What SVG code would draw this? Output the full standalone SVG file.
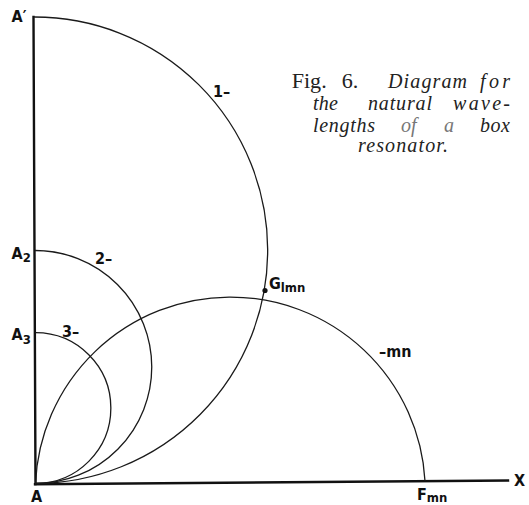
<svg xmlns="http://www.w3.org/2000/svg" width="529" height="505" viewBox="0 0 529 505">
<style>
.ax{stroke:#111;stroke-width:2.4;fill:none;stroke-linecap:square}
.cv{stroke:#1a1a1a;stroke-width:1.3;fill:none}
.lb{font-family:"DejaVu Sans Condensed","Liberation Sans Narrow","Liberation Sans",sans-serif;font-size:16px;font-weight:bold;fill:#111}
.sb{font-size:13px}
.cap{font-family:"Liberation Serif","Times New Roman",serif;font-size:20px;fill:#222}
.it{font-style:italic}
.fd{fill:#777}
</style>
<rect width="529" height="505" fill="#fff"/>
<g id="axes">
<line class="ax" x1="33.5" y1="17" x2="35.5" y2="484"/>
<line class="ax" x1="35" y1="484.3" x2="508" y2="480.5"/>
</g>
<g id="curves">
<path class="cv" d="M33.5 17 A233 233 0 0 1 35.5 483.5"/>
<path class="cv" d="M35 250.5 A116.5 116.5 0 0 1 35.5 483.5"/>
<path class="cv" d="M35.5 332.7 A75.4 75.4 0 0 1 35.5 483.5"/>
<path class="cv" d="M35.5 483.5 A195 195 0 0 1 425 481"/>
<circle cx="265" cy="290.5" r="2.6" fill="#111"/>
</g>
<g id="labels">
<text class="lb" x="11.5" y="22">A′</text>
<text class="lb" x="11.5" y="259">A<tspan class="sb" dy="3">2</tspan></text>
<text class="lb" x="11.5" y="340">A<tspan class="sb" dy="4">3</tspan></text>
<text class="lb" x="31" y="502">A</text>
<text class="lb" x="213" y="97">1–</text>
<text class="lb" x="95" y="263.5">2–</text>
<text class="lb" x="62" y="336.5">3–</text>
<text class="lb" x="269" y="288.5">G<tspan class="sb" dy="3">lmn</tspan></text>
<text class="lb" x="379" y="357">–mn</text>
<text class="lb" x="417" y="499.5">F<tspan class="sb" dy="2.5">mn</tspan></text>
<text class="lb" x="514" y="485.5">X</text>
</g>
<g id="caption" class="cap">
<text x="291.7" y="88.3" textLength="35" lengthAdjust="spacingAndGlyphs">Fig.</text>
<text x="341.7" y="88.3" textLength="16.6" lengthAdjust="spacingAndGlyphs">6.</text>
<text class="it" x="388" y="88.3" textLength="79" lengthAdjust="spacing">Diagram</text>
<text class="it" x="480" y="88.3" textLength="30" lengthAdjust="spacing">for</text>
<text class="it" x="313" y="110" textLength="25" lengthAdjust="spacing">the</text>
<text class="it" x="368" y="110" textLength="64" lengthAdjust="spacing">natural</text>
<text class="it" x="453" y="110" textLength="57" lengthAdjust="spacing">wave-</text>
<text class="it" x="313" y="131.7" textLength="62" lengthAdjust="spacing">lengths</text>
<text class="it fd" x="401" y="131.7">of</text>
<text class="it fd" x="444" y="131.7">a</text>
<text class="it" x="480" y="131.7" textLength="30" lengthAdjust="spacing">box</text>
<text class="it" x="358" y="151.7" textLength="90" lengthAdjust="spacing">resonator.</text>
</g>
</svg>
